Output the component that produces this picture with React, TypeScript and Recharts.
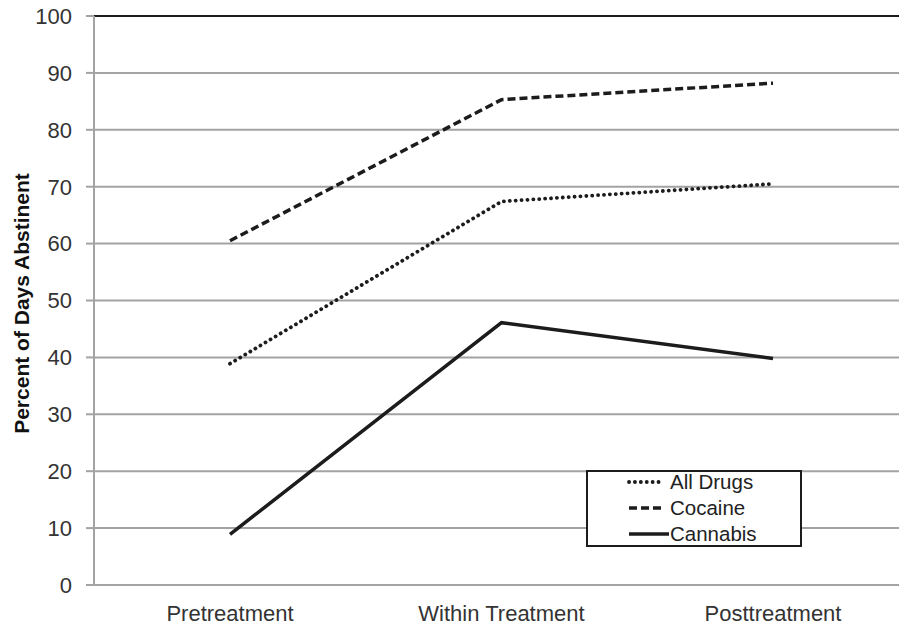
import React from "react";
import {
  CartesianGrid,
  Line,
  LineChart,
  ReferenceLine,
  XAxis,
  YAxis,
} from "recharts";

const phases = ["Pretreatment", "Within Treatment", "Posttreatment"];
const allDrugs = [38.9, 67.4, 70.5];
const cocaine = [60.5, 85.3, 88.2];
const cannabis = [8.9, 46.1, 39.8];
const yTicks = [0, 10, 20, 30, 40, 50, 60, 70, 80, 90, 100];

const FONT = "'Liberation Sans', Arial, sans-serif";
const INK = "#1c1c1c";
const DOTS = "0.1 5.8";

const series = [
  { key: "allDrugs", name: "All Drugs", dash: DOTS, width: 3.8 },
  { key: "cocaine", name: "Cocaine", dash: "8 4", width: 3.5 },
  { key: "cannabis", name: "Cannabis", dash: undefined, width: 3.5 },
];

const data = phases.map((phase, i) => ({
  phase,
  allDrugs: allDrugs[i],
  cocaine: cocaine[i],
  cannabis: cannabis[i],
}));

// drawn outside the chart so it doesn't eat into the plot height
function LegendBox() {
  return (
    <div
      style={{
        position: "absolute",
        left: 586,
        top: 470,
        width: 212,
        height: 73,
        border: `2px solid ${INK}`,
        background: "#fff",
        fontFamily: FONT,
        fontSize: 20.5,
        color: "#222",
        boxSizing: "content-box",
      }}
    >
      {series.map((s, i) => (
        <div
          key={s.key}
          style={{
            position: "absolute",
            left: 0,
            top: -3 + 26 * i,
            height: 26,
            display: "flex",
            alignItems: "center",
            whiteSpace: "nowrap",
          }}
        >
          <svg width={82} height={10} style={{ display: "block" }}>
            <line
              x1={41}
              x2={s.dash ? 76 : 81}
              y1={5}
              y2={5}
              stroke={INK}
              strokeWidth={s.width}
              strokeDasharray={s.dash}
              strokeLinecap={s.dash === DOTS ? "round" : "butt"}
            />
          </svg>
          <span>{s.name}</span>
        </div>
      ))}
    </div>
  );
}

function AxisTitle({ viewBox }: any) {
  const cx = 21;
  const cy = viewBox.y + viewBox.height / 2 + 3;
  return (
    <text
      x={cx}
      y={cy}
      transform={`rotate(-90, ${cx}, ${cy})`}
      textAnchor="middle"
      dominantBaseline="central"
      fontFamily={FONT}
      fontWeight="bold"
      fontSize={21}
      fill="#111"
    >
      Percent of Days Abstinent
    </text>
  );
}

export default function App() {
  return (
    <div
      style={{
        position: "fixed",
        left: 0,
        top: 0,
        width: 899,
        height: 625,
        overflow: "hidden",
        background: "#fff",
      }}
    >
      <LineChart
        width={910}
        height={625}
        data={data}
        margin={{ top: 16, right: 1, left: 0, bottom: 0 }}
      >
        <CartesianGrid vertical={false} stroke="#a3a3a3" strokeWidth={2} />
        <XAxis
          dataKey="phase"
          height={40}
          padding={{ left: 136, right: 136 }}
          stroke="#a3a3a3"
          strokeWidth={2}
          tickLine={false}
          tickSize={0}
          tickMargin={20}
          tick={{ fontFamily: FONT, fontSize: 22, fill: "#333" }}
        />
        <YAxis
          width={94}
          domain={[0, 100]}
          ticks={yTicks}
          interval={0}
          stroke="#a3a3a3"
          strokeWidth={2}
          tickSize={8}
          tickMargin={14}
          tick={{ fontFamily: FONT, fontSize: 22, fill: "#333" }}
          label={<AxisTitle />}
        />
        <ReferenceLine y={100} stroke={INK} strokeWidth={2} />
        {series.map((s) => (
          <Line
            key={s.key}
            dataKey={s.key}
            name={s.name}
            stroke={INK}
            strokeWidth={s.width}
            strokeDasharray={s.dash}
            strokeLinecap={s.dash === DOTS ? "round" : "butt"}
            dot={false}
            activeDot={false}
            isAnimationActive={false}
          />
        ))}
      </LineChart>
      <LegendBox />
    </div>
  );
}
